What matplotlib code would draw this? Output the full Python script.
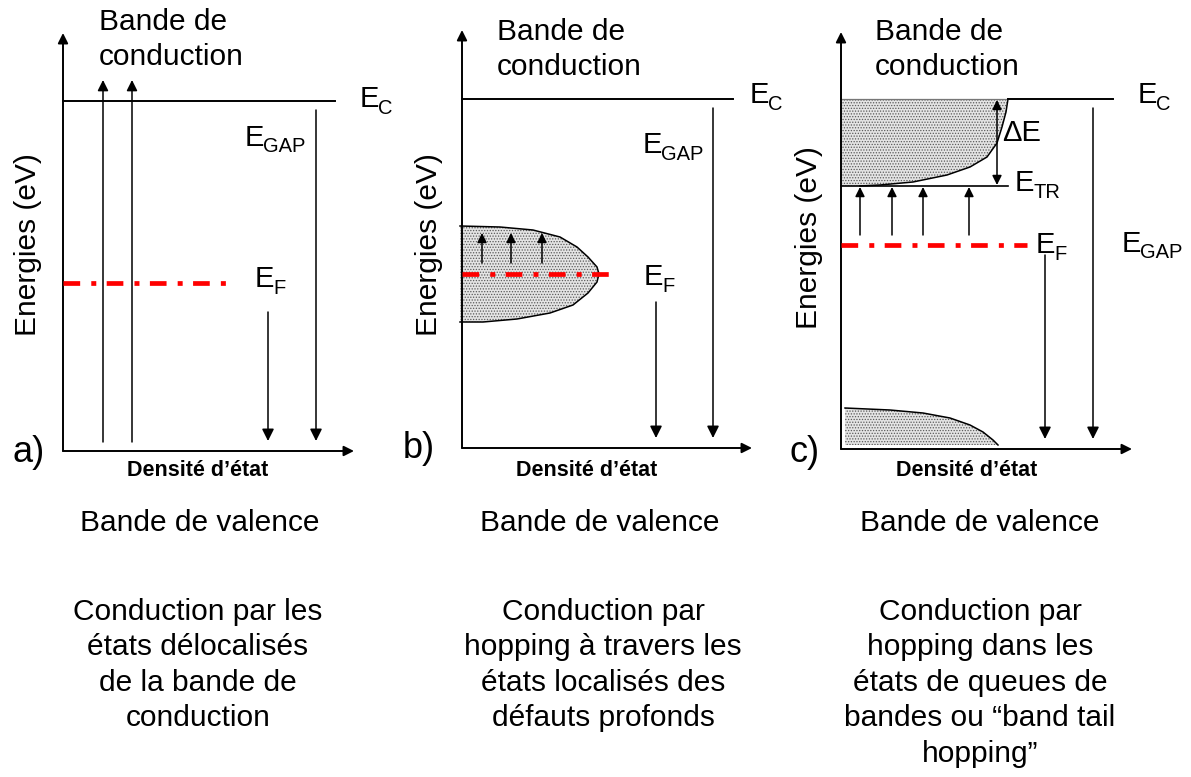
import matplotlib
matplotlib.use("Agg")
import matplotlib.pyplot as plt
from matplotlib.patches import Polygon

plt.rcParams["font.family"] = ["Liberation Sans", "DejaVu Sans"]
plt.rcParams["lines.scale_dashes"] = False
plt.rcParams["hatch.linewidth"] = 0.6

# ── Diagram data (pixel coordinates of the original figure) ──────────────────
panel_tags   = ["a)", "b)", "c)"]
tag_x        = [29, 419, 805]
tag_y        = [453, 449, 453]
axis_x0      = [63, 462, 841]      # energy axis position
axis_x1      = [354, 752, 1132]    # end of density-of-states axis
axis_y0      = [451, 448, 449]     # bottom (density axis)
axis_top     = [33, 30, 32]
ec_y         = [101, 99, 99]
ec_x_start   = [63, 462, 1008]
ec_x_end     = [335, 733, 1113]
ec_label_x   = [360, 750, 1138]
ec_label_y   = [99, 95, 95]
ef_y         = [283, 274, 245]
ef_x_end     = [230, 615, 1027]
ef_label_x   = [255, 644, 1036]
ef_label_y   = [279, 277, 245]
egap_label_x = [245, 643, 1122]
egap_label_y = [138, 145, 244]
gap_arrow_x  = [316, 713, 1093]
fermi_arrow_x = [268, 656, 1045]
fermi_arrow_top = [312, 302, 255]
title_x      = [99, 497, 875]
title_top    = [10, 20, 20]        # cap top of "Bande de"
ylabel_x     = [28, 429, 809]
ylabel_y     = [245, 245, 238]
dos_x        = [198, 587, 967]
valence_x    = [200, 600, 980]
caption_x    = [198, 603, 980]

captions = [
    "Conduction par les\nétats délocalisés\nde la bande de\nconduction",
    "Conduction par\nhopping à travers les\nétats localisés des\ndéfauts profonds",
    "Conduction par\nhopping dans les\nétats de queues de\nbandes ou \u201cband tail\nhopping\u201d",
]

# panel a: delocalised transitions
deloc_x = [103, 132]
deloc_from, deloc_to = 442, 80

# panel b: deep defect band (outline)
defect_x = [460, 500, 533, 560, 577, 588, 597, 599, 597, 588, 573, 550, 517, 483, 460]
defect_y = [226, 227, 230, 237, 247, 257, 267, 274, 282, 293, 305, 313, 319, 322, 322]
hop_b_x = [482, 511, 542]
hop_b_from, hop_b_to = 263, 233

# panel c: conduction band tail and valence band tail
ctail_x = [842, 1008, 1006, 1002, 997, 987, 970, 947, 913, 880, 860, 842]
ctail_y = [99, 99, 112, 127, 143, 157, 167, 175, 182, 185, 186, 186]
vtail_x = [845, 890, 923, 950, 970, 983, 993, 998, 845]
vtail_y = [408, 410, 413, 418, 425, 432, 440, 445, 445]
etr_y = 186
etr_x_end = 1008
etr_label = (1015, 183)
hop_c_x = [860, 892, 923, 969]
hop_c_from, hop_c_to = 235, 187
de_x = 997
de_label = (1002, 133)

# ── Figure ───────────────────────────────────────────────────────────────────
fig = plt.figure(figsize=(11.91, 7.77), dpi=100)
ax = fig.add_axes([0, 0, 1, 1])
ax.set_xlim(0, 1191)
ax.set_ylim(777, 0)
ax.axis("off")

BIG = 21.5
ESZ = 21
SUB = 14.5


def arrow(x0, y0, x1, y1, lw=1.1, ms=16):
    ax.annotate("", xy=(x1, y1), xytext=(x0, y0),
                arrowprops=dict(arrowstyle="-|>", color="black", lw=lw,
                                mutation_scale=ms, shrinkA=0, shrinkB=0))


def elabel(x, y, sub):
    ax.text(x, y, "E", fontsize=ESZ, ha="left", va="center")
    ax.text(x + 18, y + 9, sub, fontsize=SUB, ha="left", va="center")


def stipple(xs, ys):
    ax.add_patch(Polygon(list(zip(xs, ys)), closed=True, facecolor="#e4e4e4",
                         edgecolor="#5a5a5a", hatch="......", lw=0, zorder=1))


# shaded states first so lines sit on top
stipple(defect_x, defect_y)
ax.plot(defect_x, defect_y, color="black", lw=1.1, zorder=3)
stipple(ctail_x, ctail_y)
ax.plot(ctail_x[1:-1], ctail_y[1:-1], color="black", lw=1.1, zorder=3)
ax.plot(ctail_x[:2], ctail_y[:2], color="#777777", lw=0.9, zorder=3)
stipple(vtail_x, vtail_y)
ax.plot(vtail_x[:-1], vtail_y[:-1], color="black", lw=1.1, zorder=3)

for i in range(3):
    x0, y0 = axis_x0[i], axis_y0[i]
    # axes
    arrow(x0, y0, x0, axis_top[i], lw=1.4, ms=15)
    arrow(x0, y0, axis_x1[i], y0, lw=1.4, ms=15)
    # conduction band edge
    ax.plot([ec_x_start[i], ec_x_end[i]], [ec_y[i], ec_y[i]], color="black", lw=1.4, zorder=3)
    elabel(ec_label_x[i], ec_label_y[i], "C")
    # Fermi level
    ax.plot([x0, ef_x_end[i]], [ef_y[i], ef_y[i]], color="#ff0000", lw=3.4,
            linestyle=(0, (12, 8, 3.6, 7.5)), zorder=4)
    elabel(ef_label_x[i], ef_label_y[i], "F")
    elabel(egap_label_x[i], egap_label_y[i], "GAP")
    # gap and Fermi arrows
    arrow(gap_arrow_x[i], ec_y[i] + 9, gap_arrow_x[i], y0 - 10, ms=18)
    arrow(fermi_arrow_x[i], fermi_arrow_top[i], fermi_arrow_x[i], y0 - 10, ms=18)
    # texts
    ax.text(title_x[i], title_top[i] - 2, "Bande de\nconduction", fontsize=BIG,
            ha="left", va="top", linespacing=1.33)
    ax.text(ylabel_x[i], ylabel_y[i], "Energies (eV)", fontsize=BIG, rotation=90,
            ha="center", va="center")
    ax.text(tag_x[i], tag_y[i], panel_tags[i], fontsize=26, ha="center", va="center")
    ax.text(dos_x[i], 470, "Densité d\u2019état", fontsize=15.5, fontweight="bold",
            ha="center", va="center")
    ax.text(valence_x[i], 523, "Bande de valence", fontsize=BIG, ha="center", va="center")
    ax.text(caption_x[i], 598, captions[i], fontsize=BIG, ha="center", va="top",
            linespacing=1.34)

# panel a transitions
for x in deloc_x:
    arrow(x, deloc_from, x, deloc_to)

# panel b hops
for x in hop_b_x:
    arrow(x, hop_b_from, x, hop_b_to, ms=14)

# panel c: transport level, hops and ΔE
ax.plot([axis_x0[2], etr_x_end], [etr_y, etr_y], color="black", lw=1.2, zorder=3)
elabel(etr_label[0], etr_label[1], "TR")
for x in hop_c_x:
    arrow(x, hop_c_from, x, hop_c_to, ms=14)
ax.annotate("", xy=(de_x, etr_y - 1), xytext=(de_x, ec_y[2] + 1),
            arrowprops=dict(arrowstyle="<|-|>", color="black", lw=1.1,
                            mutation_scale=14, shrinkA=0, shrinkB=0), zorder=5)
ax.text(de_label[0], de_label[1], "\u0394E", fontsize=ESZ, ha="left", va="center")

fig.savefig("out.png", dpi=100)
